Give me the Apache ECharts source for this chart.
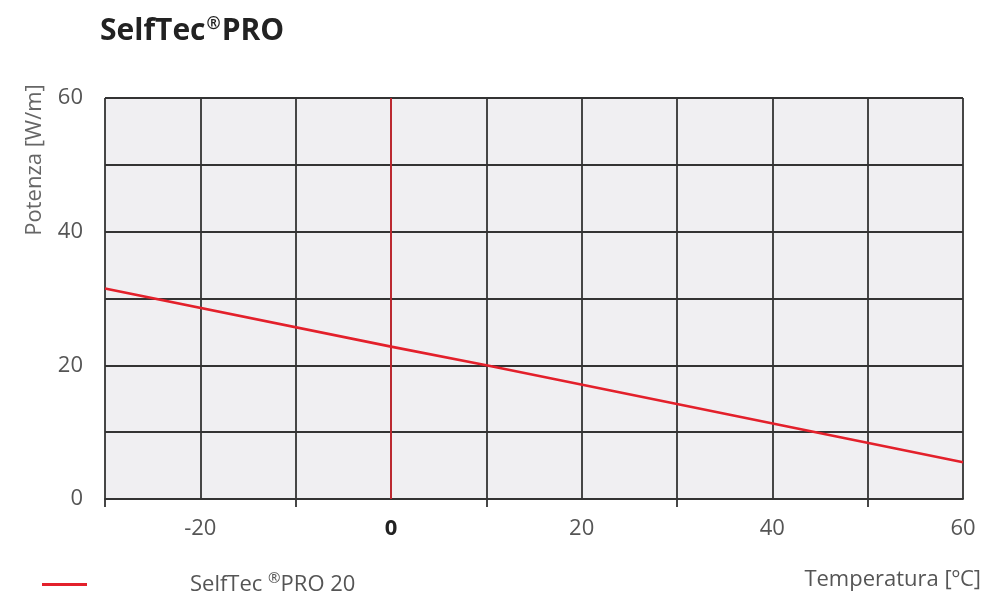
<!DOCTYPE html>
<html>
<head>
<meta charset="utf-8">
<script src="https://cdn.jsdelivr.net/npm/echarts@6/dist/echarts.min.js"></script>
<style>html,body{margin:0;padding:0;background:#fff}#c{width:994px;height:600px}</style>
</head>
<body>
<div id="c"></div>
<script>
const temps = [-30, 0, 10, 30, 60];
const power = [31.5, 22.8, 20, 14.2, 5.5];
const xLabelValues = [-20, 0, 20, 40, 60];
const xTickValues = [-30, -10, 10, 30, 50];
const xGridValues = [-30, -20, -10, 10, 20, 30, 40, 50, 60];
const yLabelValues = [0, 20, 40, 60];
const yTickValues = [10, 30, 50];
const seriesName = 'SelfTec ®PRO 20';

const chart = echarts.init(document.getElementById('c'));
const gridColor = '#333333';
const red = '#e3202b';
const font = '"Open Sans", "Noto Sans", sans-serif';
const gridW = 1.8;

function tickAxis(min, max, ticks, pos) {
  return {
    type: 'value', min: min, max: max, position: pos, gridIndex: 0,
    axisLine: { show: false },
    axisLabel: { show: false },
    splitLine: { show: false },
    axisTick: { show: true, customValues: ticks, length: 8, lineStyle: { color: gridColor, width: gridW } }
  };
}

chart.setOption({
  animation: false,
  textStyle: { fontFamily: font },
  title: {
    text: '{b|SelfTec}{r|®}{b|PRO}',
    left: 95, top: 6,
    textStyle: {
      rich: {
        b: { fontSize: 30, fontWeight: 'bold', color: '#222', fontFamily: font, lineHeight: 40 },
        r: { fontSize: 17, color: '#222', fontFamily: font, lineHeight: 40, padding: [0, 1, 14, 1] }
      }
    }
  },
  legend: {
    left: 37, top: 566,
    icon: 'rect', itemWidth: 45, itemHeight: 3,
    itemGap: 5,
    data: [seriesName],
    formatter: function (n) { return '{gap|}{t|SelfTec }{s|®}{t|PRO 20}'; },
    textStyle: {
      rich: {
        gap: { width: 98 },
        t: { fontSize: 22, color: '#555', fontFamily: font, lineHeight: 28 },
        s: { fontSize: 15, color: '#555', fontFamily: font, lineHeight: 28, padding: [0, 0, 12, 0] }
      }
    }
  },
  grid: {
    left: 105, right: 31, top: 98, bottom: 101,
    show: true, backgroundColor: '#f0eff2', borderWidth: 0
  },
  graphic: [
    {
      type: 'text', x: 35, y: 160, rotation: Math.PI / 2,
      style: { text: 'Potenza [W/m]', fontSize: 22, fill: '#666', fontFamily: font, align: 'center', verticalAlign: 'middle' }
    },
    {
      type: 'text', x: 981, y: 580,
      style: { text: 'Temperatura [ºC]', fontSize: 22, fill: '#555', fontFamily: font, align: 'right', verticalAlign: 'middle' }
    }
  ],
  xAxis: [{
    type: 'value', min: -30, max: 60, interval: 10, position: 'bottom',
    axisLine: { show: true, lineStyle: { color: gridColor, width: gridW } },
    axisTick: { show: false },
    axisLabel: {
      customValues: xLabelValues, margin: 19, fontSize: 22, color: '#555', fontFamily: font,
      formatter: function (v) { return v === 0 ? '{z|0}' : String(v); },
      rich: { z: { fontSize: 22, fontWeight: 'bold', color: '#222', fontFamily: font } }
    },
    splitLine: { show: false }
  }, tickAxis(-30, 60, xTickValues, 'bottom'), {
    // grey vertical grid lines, every 10 °C except 0 °C (drawn in red)
    type: 'value', min: -30, max: 60, position: 'bottom', gridIndex: 0,
    axisLine: { show: false }, axisLabel: { show: false },
    axisTick: { show: false, customValues: xGridValues },
    splitLine: { show: true, lineStyle: { color: gridColor, width: gridW } }
  }],
  yAxis: [{
    type: 'value', min: 0, max: 60, interval: 10, position: 'left',
    axisLine: { show: true, lineStyle: { color: gridColor, width: gridW } },
    axisTick: { show: false },
    axisLabel: { customValues: yLabelValues, margin: 22, fontSize: 22, color: '#555', fontFamily: font },
    splitLine: { show: true, lineStyle: { color: gridColor, width: gridW } }
  }, tickAxis(0, 60, yTickValues, 'left')],
  series: [{
    name: seriesName,
    type: 'line',
    xAxisIndex: 0, yAxisIndex: 0,
    data: temps.map((t, i) => [t, power[i]]),
    showSymbol: false,
    lineStyle: { color: red, width: 2.6 },
    itemStyle: { color: red },
    z: 5,
    markLine: {
      silent: true, symbol: 'none', label: { show: false },
      lineStyle: { color: red, width: 1.5, type: 'solid' },
      data: [{ xAxis: 0 }]
    }
  }]
});
</script>
</body>
</html>
